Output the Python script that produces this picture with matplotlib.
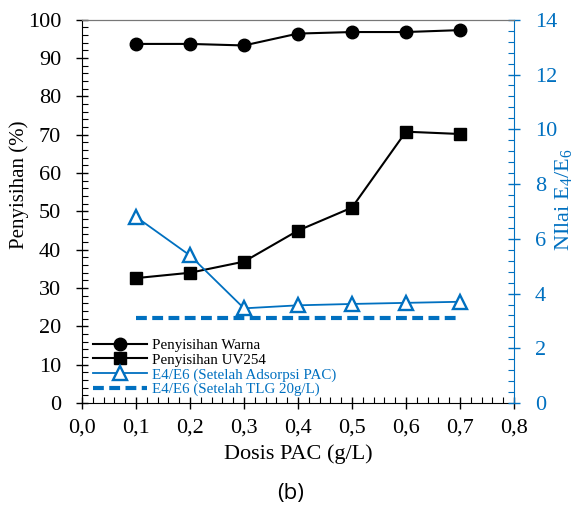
import matplotlib
matplotlib.use("Agg")
import matplotlib.pyplot as plt
from matplotlib.ticker import MultipleLocator, FuncFormatter

plt.rcParams['font.family'] = ['Liberation Serif', 'DejaVu Serif']
plt.rcParams['mathtext.default'] = 'regular'

dosis = [0.1, 0.2, 0.3, 0.4, 0.5, 0.6, 0.7]
warna = [93.7, 93.7, 93.3, 96.4, 96.8, 96.8, 97.3]
uv254 = [32.6, 34.0, 36.9, 45.0, 51.0, 70.8, 70.2]
e4e6_pac = [6.8, 5.39, 3.46, 3.57, 3.62, 3.66, 3.70]
e4e6_tlg_x = [0.1, 0.7]
e4e6_tlg = [3.09, 3.09]

blue = '#0070C0'

fig = plt.figure(figsize=(5.82, 5.07), dpi=100)
ax = fig.add_axes([0.141, 0.205, 0.742, 0.756])
ax2 = ax.twinx()

l1, = ax.plot(dosis, warna, color='black', lw=1.5, marker='o', ms=9, label='Penyisihan Warna')
l2, = ax.plot(dosis, uv254, color='black', lw=1.5, marker='s', ms=8.7, label='Penyisihan UV254')
l3, = ax2.plot(dosis, e4e6_pac, color=blue, lw=1.3, marker='^', ms=9.5, mfc='white', mec=blue, mew=1.7,
               label='E4/E6 (Setelah Adsorpsi PAC)')
l4, = ax2.plot(e4e6_tlg_x, e4e6_tlg, color=blue, lw=3, ls=(0, (2.6, 1.3)), label='E4/E6 (Setelah TLG 20g/L)')

ax.set_xlim(0, 0.8)
ax.set_ylim(0, 100)
ax2.set_ylim(0, 14)
ax.xaxis.set_major_locator(MultipleLocator(0.1))
ax.xaxis.set_minor_locator(MultipleLocator(0.02))
ax.yaxis.set_major_locator(MultipleLocator(10))
ax.yaxis.set_minor_locator(MultipleLocator(2))
ax2.yaxis.set_major_locator(MultipleLocator(2))
ax2.yaxis.set_minor_locator(MultipleLocator(0.4))
ax.xaxis.set_major_formatter(FuncFormatter(lambda v, p: f"{v:.1f}".replace('.', ',')))

ax.tick_params(axis='x', which='major', direction='inout', length=8, width=1, labelsize=16, pad=7)
ax.tick_params(axis='x', which='minor', direction='in', length=4, width=0.8)
ax.tick_params(axis='y', which='major', direction='inout', length=8, width=1, labelsize=16, pad=11)
ax.tick_params(axis='y', which='minor', direction='in', length=4, width=0.8)
ax2.tick_params(axis='y', which='major', direction='inout', length=8, width=1, labelsize=16,
                colors=blue, labelcolor=blue, pad=11)
ax2.tick_params(axis='y', which='minor', direction='in', length=4, width=0.8, colors=blue)

for s in ['left', 'bottom']:
    ax.spines[s].set_color('black')
ax.spines['top'].set_color('#777777')
ax2.spines['top'].set_color('#777777')
ax2.spines['right'].set_color(blue)
ax2.spines['left'].set_visible(False)
ax2.spines['bottom'].set_visible(False)
ax.spines['right'].set_visible(False)

ax.set_xlabel('Dosis PAC (g/L)', fontsize=16, labelpad=5)
ax.set_ylabel('Penyisihan (%)', fontsize=15)
ax.yaxis.set_label_coords(-0.122, 0.57)
ax2.set_ylabel('NIlai E$_4$/E$_6$', fontsize=16, color=blue)
ax2.yaxis.set_label_coords(1.09, 0.53)

leg = ax.legend(handles=[l1, l2, l3, l4], loc='lower left', frameon=False, fontsize=10.8,
                bbox_to_anchor=(0.0, -0.01), handlelength=3.6, handletextpad=0.35,
                labelspacing=0.08, borderaxespad=0.3)
leg_colors = ['black', 'black', blue, blue]
for t, c in zip(leg.get_texts(), leg_colors):
    t.set_color(c)

fig.text(0.5, 0.005, '(b)', fontsize=16, ha='center', va='bottom', family=['Open Sans', 'DejaVu Sans'])

fig.savefig('out.png', dpi=100)
